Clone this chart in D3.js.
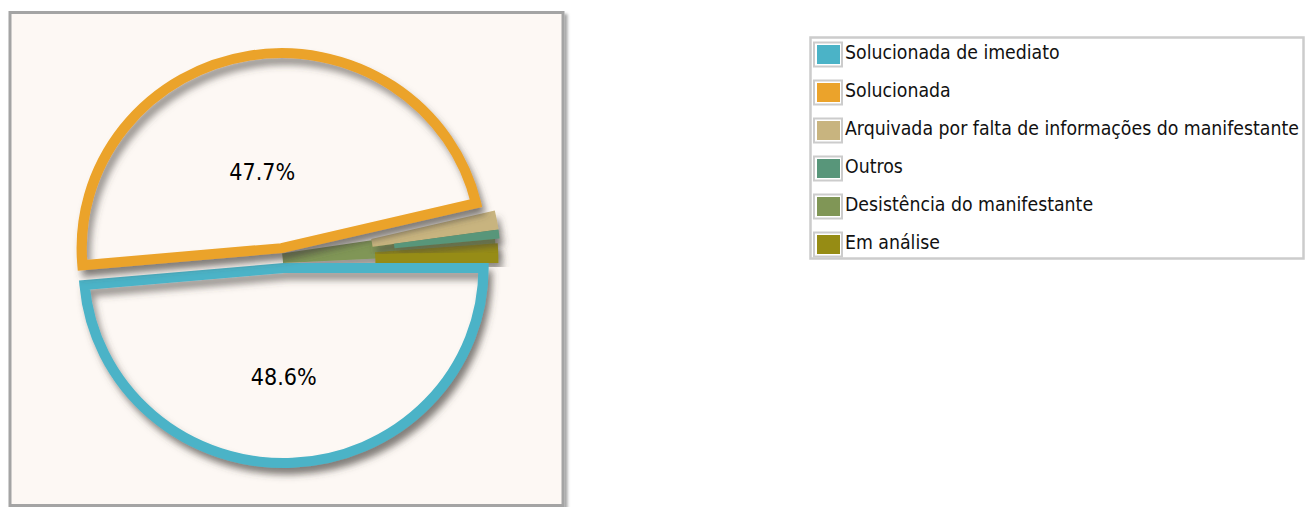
<!DOCTYPE html>
<html lang="pt">

<head>
   <meta charset="utf-8">
   <script src="https://d3js.org/d3.v7.min.js"></script>
   <style>
      body { margin: 0; background: #ffffff; }
      svg text { font-family: "DejaVu Sans Condensed", "DejaVu Sans", sans-serif; }
   </style>
   <title>Situação das manifestações</title>
</head>

<body>
   <svg id="chart" width="1305" height="507"></svg>

   <script type="text/javascript">

      // Chart data
      var categories = ["Solucionada de imediato", "Solucionada",
         "Arquivada por falta de informações do manifestante", "Outros",
         "Desistência do manifestante", "Em análise"];
      var values = [48.6, 47.7, 1.5, 0.7, 0.7, 0.8];
      var colors = ["#4bb3c7", "#eba32b", "#c8b47f", "#58967a", "#809656", "#968c14"];

      // Slice look: big slices are outlined, small ones filled
      var outlined = [true, true, false, false, false, false];
      var explode = [10, 10, 0, 0, 0, 0];
      var shift = [[0, 0], [0, 0], [6, 0], [6, 0], [-98, 10], [-58, 5]]; // offset of small slice apex
      var holeR = [0, 0, 82, 103, 98, 148];
      var reach = [195, 195, 206, 206, 306, 268];
      var minAngle = [0, 0, 0, 0, 5.7, 4.2]; // degrees, widened tiny slices
      var drawOrder = [4, 5, 2, 3, 0, 1];

      var svg = d3.select("#chart");
      var bg = "#fdf8f4";
      var cx = 283.2, cy = 258;

      // Shadows
      var defs = svg.append("defs");
      defs.append("filter").attr("id", "shadow")
         .attr("x", "-20%").attr("y", "-20%").attr("width", "140%").attr("height", "140%")
         .append("feDropShadow")
         .attr("dx", 4).attr("dy", 7).attr("stdDeviation", 3.5)
         .attr("flood-color", "#4a423c").attr("flood-opacity", 0.55);
      defs.append("filter").attr("id", "panelShadow")
         .append("feDropShadow")
         .attr("dx", 3).attr("dy", 3).attr("stdDeviation", 1.5)
         .attr("flood-color", "#000").attr("flood-opacity", 0.35);

      // Panel
      svg.append("rect")
         .attr("x", 10).attr("y", 12.5)
         .attr("width", 553).attr("height", 493)
         .attr("fill", bg)
         .attr("stroke", "#a4a4a4").attr("stroke-width", 3)
         .attr("filter", "url(#panelShadow)");

      // Pie layout, starting at 3 o'clock, clockwise
      var pie = d3.pie().sort(null).value(d => d)
         .startAngle(Math.PI / 2).endAngle(Math.PI / 2 + 2 * Math.PI);
      var slices = pie(values);

      var toRad = Math.PI / 180;
      var pieG = svg.append("g")
         .attr("transform", "translate(" + cx + "," + cy + ") scale(1.025,1)");

      function sliceGeom(d, i) {
         var a0 = d.startAngle, a1 = d.endAngle;
         var minA = minAngle[i] * toRad;
         if (a1 - a0 < minA) a0 = a1 - minA;
         var mid = (d.startAngle + d.endAngle) / 2;
         var ox = Math.sin(mid) * explode[i] + shift[i][0];
         var oy = -Math.cos(mid) * explode[i] + shift[i][1];
         var arc = d3.arc()
            .innerRadius(holeR[i])
            .outerRadius(reach[i])
            .startAngle(a0).endAngle(a1);
         return { path: arc(), ox: ox, oy: oy, mid: mid };
      }

      drawOrder.forEach(function (i) {
         var d = slices[i];
         var g = sliceGeom(d, i);
         var sg = pieG.append("g").attr("transform", "translate(" + g.ox + "," + g.oy + ")");
         if (outlined[i]) {
            sg.append("path").attr("d", g.path)
               .attr("fill", bg)
               .attr("filter", "url(#shadow)");
            sg.append("path").attr("d", g.path)
               .attr("fill", "none")
               .attr("stroke", colors[i])
               .attr("stroke-width", 10)
               .attr("stroke-linejoin", "miter")
               .attr("filter", "url(#shadow)");
         } else {
            sg.append("path").attr("d", g.path)
               .attr("fill", colors[i])
               .attr("filter", "url(#shadow)");
         }
      });

      // Percent labels for the outlined slices
      var labelArc = d3.arc().innerRadius(93).outerRadius(93);
      slices.forEach(function (d, i) {
         if (!outlined[i]) return;
         var g = sliceGeom(d, i);
         var c = labelArc.centroid(d);
         pieG.append("text")
            .attr("x", c[0] + g.ox - 4)
            .attr("y", c[1] + g.oy + 16)
            .attr("text-anchor", "middle")
            .attr("dominant-baseline", "central")
            .style("font-size", "22.5px")
            .attr("fill", "#000")
            .text(d3.format(".1f")(d.data) + "%");
      });

      // Legend
      var legend = svg.append("g");
      legend.append("rect")
         .attr("x", 810.5).attr("y", 37.5)
         .attr("width", 493).attr("height", 221)
         .attr("fill", "#ffffff")
         .attr("stroke", "#cccccc").attr("stroke-width", 2.5);

      var rowY = d3.scaleBand().domain(d3.range(categories.length)).range([40, 268]);

      var rows = legend.selectAll(".row")
         .data(categories)
         .enter()
         .append("g")
         .attr("class", "row")
         .attr("transform", (d, i) => "translate(0," + rowY(i) + ")");

      rows.append("rect")
         .attr("x", 814).attr("y", 2.5)
         .attr("width", 28).attr("height", 24)
         .attr("fill", "#ffffff")
         .attr("stroke", "#cccccc").attr("stroke-width", 2);
      rows.append("rect")
         .attr("x", 817).attr("y", 5)
         .attr("width", 23).attr("height", 19)
         .attr("fill", (d, i) => colors[i]);
      rows.append("text")
         .attr("x", 845).attr("y", 19)
         .style("font-size", "19.3px")
         .attr("fill", "#111")
         .text(d => d);

   </script>
</body>

</html>
